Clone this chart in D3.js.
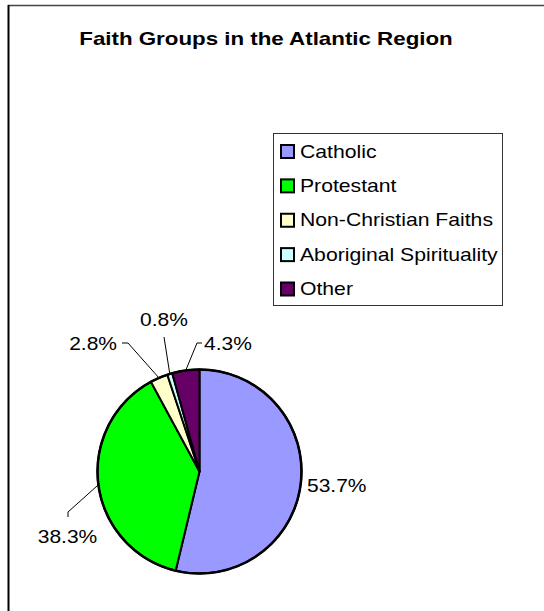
<!DOCTYPE html>
<html>
<head>
<meta charset="utf-8">
<script src="https://cdn.jsdelivr.net/npm/d3@7/dist/d3.min.js"></script>
<style>
  html, body { margin: 0; padding: 0; background: #fff; }
  svg { display: block; }
  text { font-family: "Liberation Sans", Arial, sans-serif; fill: #000; }
</style>
</head>
<body>
<script>
const title = "Faith Groups in the Atlantic Region";
const categories = ["Catholic", "Protestant", "Non-Christian Faiths", "Aboriginal Spirituality", "Other"];
const values = [53.7, 38.3, 2.8, 0.8, 4.3];
const valueLabels = ["53.7%", "38.3%", "2.8%", "0.8%", "4.3%"];
const colors = ["#9999FF", "#00FF00", "#FFFFCC", "#CCFFFF", "#660066"];

const W = 544, H = 611;
const SX = 1.12;
const svg = d3.select("body").append("svg").attr("width", W).attr("height", H);

// outer frame (cropped)
svg.append("line").attr("x1", 8).attr("x2", W).attr("y1", 5.5).attr("y2", 5.5)
  .attr("stroke", "#444").attr("stroke-width", 1.5);
svg.append("line").attr("x1", 8.5).attr("x2", 8.5).attr("y1", 5).attr("y2", H)
  .attr("stroke", "#000").attr("stroke-width", 2);

function addText(g, x, y, str, size, anchor, weight, sx) {
  return g.append("text")
    .attr("transform", `translate(${x},${y}) scale(${sx || SX},1)`)
    .attr("text-anchor", anchor || "start")
    .attr("font-size", size)
    .attr("font-weight", weight || "normal")
    .text(str);
}

// title
addText(svg, 266, 45, title, 18.6, "middle", "bold", 1.2);

// legend
const lg = svg.append("g");
const lx = 273, ly = 133, lw = 229, lh = 172;
lg.append("rect").attr("x", lx + 0.5).attr("y", ly + 0.5).attr("width", lw).attr("height", lh)
  .attr("fill", "#fff").attr("stroke", "#333").attr("stroke-width", 1);
const rowY = d3.scalePoint().domain(categories).range([157.5, 295]);
categories.forEach((c, i) => {
  const by = rowY(c);
  lg.append("rect").attr("x", 281).attr("y", by - 12.5).attr("width", 13).attr("height", 13)
    .attr("fill", colors[i]).attr("stroke", "#000").attr("stroke-width", 2);
  addText(lg, 300, by, c, 19, "start", "normal", 1.115);
});

// pie
const cx = 199.5, cy = 471.5, r = 102;
const pie = d3.pie().sort(null).value(d => d)(values);
const arc = d3.arc().innerRadius(0).outerRadius(r);
const pg = svg.append("g").attr("transform", `translate(${cx},${cy})`);
pg.selectAll("path").data(pie).enter().append("path")
  .attr("d", arc)
  .attr("fill", (d, i) => colors[i])
  .attr("stroke", "#000").attr("stroke-width", 2).attr("stroke-linejoin", "round");
pg.append("circle").attr("r", r).attr("fill", "none").attr("stroke", "#000").attr("stroke-width", 2.5);

// labels with leader lines: elbow/end offsets relative to pie centre, and text position
const labelLayout = [
  { pts: [], tx: 107.5, ty: 20.5, anchor: "start" },
  { pts: [[-131.5, 40.5], [-131.5, 45.5]], tx: -132, ty: 71.5, anchor: "middle" },
  { pts: [[-71.5, -128.5], [-77.5, -128.5]], tx: -82.5, ty: -121.5, anchor: "end" },
  { pts: [[-35.5, -134.5]], tx: -35.5, ty: -145.5, anchor: "middle" },
  { pts: [[-2.5, -128.5], [2.5, -128.5]], tx: 4.5, ty: -121.5, anchor: "start" }
];
const lineGen = d3.line();
pie.forEach((d, i) => {
  const a = (d.startAngle + d.endAngle) / 2;
  const p0 = [Math.sin(a) * r, -Math.cos(a) * r];
  const L = labelLayout[i];
  if (L.pts.length) {
    pg.append("path").attr("d", lineGen([p0, ...L.pts]))
      .attr("fill", "none").attr("stroke", "#000").attr("stroke-width", 1);
  }
  addText(pg, L.tx, L.ty, valueLabels[i], 18.6, L.anchor, "normal", 1.13);
});
</script>
</body>
</html>
